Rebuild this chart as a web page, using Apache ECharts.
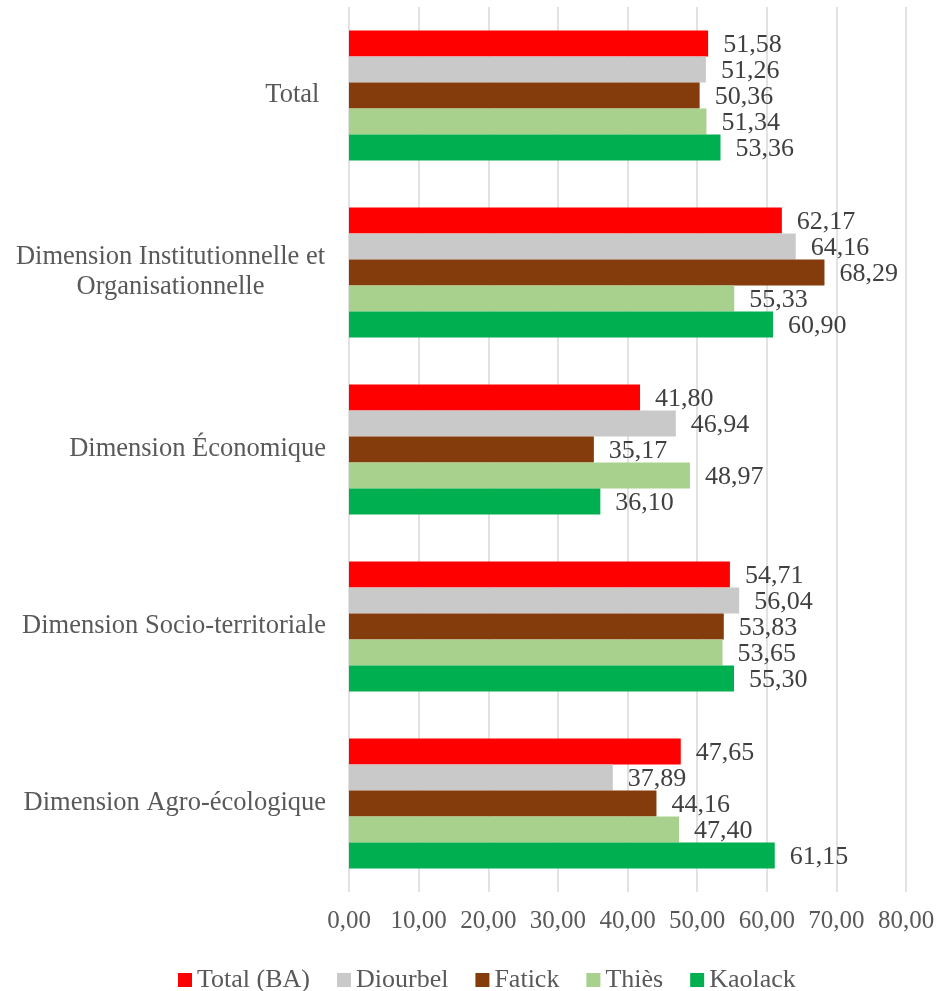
<!DOCTYPE html>
<html>
<head>
<meta charset="utf-8">
<script src="https://cdn.jsdelivr.net/npm/echarts@6/dist/echarts.min.js"></script>
<style>
  html, body { margin: 0; padding: 0; background: #fff; }
  #chart { width: 941px; height: 991px; }
</style>
</head>
<body>
<div id="chart"></div>
<script>
// Indicator dimensions, listed top to bottom
const categories = [
  'Total ',
  'Dimension Institutionnelle et\nOrganisationnelle',
  'Dimension Économique',
  'Dimension Socio-territoriale',
  'Dimension Agro-écologique'
];

// Scores per region, same order as categories
const totalBA  = [51.58, 62.17, 41.80, 54.71, 47.65];
const diourbel = [51.26, 64.16, 46.94, 56.04, 37.89];
const fatick   = [50.36, 68.29, 35.17, 53.83, 44.16];
const thies    = [51.34, 55.33, 48.97, 53.65, 47.40];
const kaolack  = [53.36, 60.90, 36.10, 55.30, 61.15];

const seriesNames = ['Total (BA)', 'Diourbel', 'Fatick', 'Thiès', 'Kaolack'];
const seriesData = [totalBA, diourbel, fatick, thies, kaolack];
const colors = ['#FF0000', '#C9C9C9', '#843C0C', '#A9D18E', '#00B050'];

const FONT = '"Liberation Serif", "Times New Roman", serif';
const fmt = v => v.toFixed(2).replace('.', ',');

const chart = echarts.init(document.getElementById('chart'));
chart.setOption({
  animation: false,
  textStyle: { fontFamily: FONT },
  grid: { left: 349, right: 35, top: 7, bottom: 99 },
  legend: {
    data: seriesNames,
    left: 173,
    top: 962,
    itemWidth: 14,
    itemHeight: 14,
    itemGap: 27,
    icon: 'rect',
    textStyle: { fontFamily: FONT, fontSize: 26, color: '#595959' }
  },
  xAxis: {
    type: 'value',
    min: 0,
    max: 80,
    interval: 10,
    axisLine: { show: false },
    axisTick: { show: false },
    splitLine: { lineStyle: { color: '#D9D9D9', width: 1.5 } },
    axisLabel: {
      formatter: v => fmt(v),
      margin: 17,
      fontFamily: FONT,
      fontSize: 25,
      color: '#595959'
    }
  },
  yAxis: {
    type: 'category',
    data: categories,
    inverse: true,
    axisLine: { show: false },
    axisTick: { show: false },
    axisLabel: {
      margin: 23,
      fontFamily: FONT,
      fontSize: 26.5,
      color: '#595959',
      lineHeight: 30,
      formatter: v => {
        if (v.indexOf('\n') >= 0) {
          return v.split('\n').map(s => '{c|' + s + '}').join('\n');
        }
        return v;
      },
      rich: {
        c: {
          width: 311,
          align: 'center',
          fontFamily: FONT,
          fontSize: 26.5,
          color: '#595959',
          lineHeight: 30
        }
      }
    }
  },
  series: seriesData.map((d, i) => ({
    name: seriesNames[i],
    type: 'bar',
    data: d,
    barGap: '0%',
    barCategoryGap: '26.5%',
    itemStyle: { color: colors[i] },
    label: {
      show: true,
      position: 'right',
      distance: 15,
      offset: [0, 2],
      formatter: p => fmt(p.value),
      fontFamily: FONT,
      fontSize: 26,
      color: '#404040'
    }
  }))
});
</script>
</body>
</html>
